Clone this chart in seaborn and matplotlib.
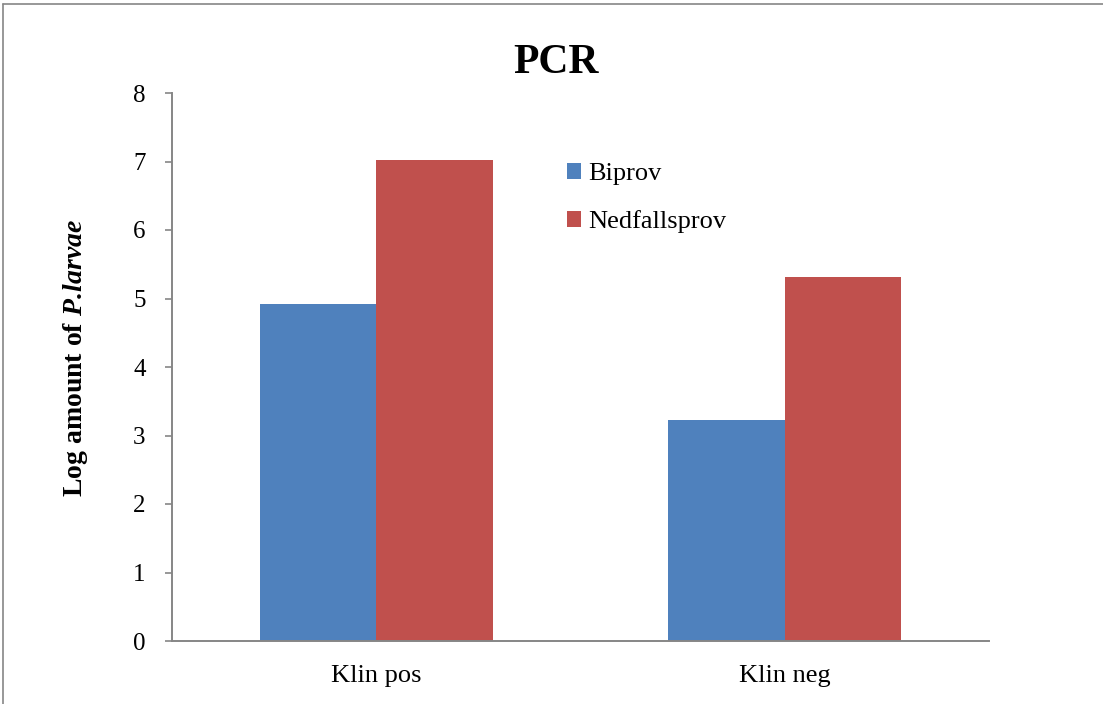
import matplotlib
matplotlib.use("Agg")
import matplotlib.pyplot as plt
from matplotlib.lines import Line2D
from matplotlib.patches import Patch
import seaborn as sns
import pandas as pd

categories = ["Klin pos", "Klin neg"]
series = ["Biprov", "Nedfallsprov"]
biprov = [4.92, 3.22]
nedfallsprov = [7.02, 5.31]
y_ticks = [0, 1, 2, 3, 4, 5, 6, 7, 8]
colors = ["#4F81BD", "#C0504D"]

df = pd.DataFrame({
    "category": categories * 2,
    "series": [series[0]] * 2 + [series[1]] * 2,
    "value": biprov + nedfallsprov,
})

sns.set_theme(style="white")
plt.rcParams["font.family"] = ["Liberation Serif", "DejaVu Serif"]
plt.rcParams["text.color"] = "black"
plt.rcParams["xtick.color"] = "black"
plt.rcParams["ytick.color"] = "black"
plt.rcParams["axes.labelcolor"] = "black"
plt.rcParams["mathtext.fontset"] = "custom"
plt.rcParams["mathtext.rm"] = "Liberation Serif"
plt.rcParams["mathtext.bfit"] = "Liberation Serif:italic:bold"

fig = plt.figure(figsize=(11.03, 7.04), dpi=100)
ax = fig.add_axes([172 / 1103, 1 - 641 / 704, (989 - 172) / 1103, (641 - 93) / 704])

sns.barplot(data=df, x="category", y="value", hue="series", order=categories,
            hue_order=series, palette=colors, width=0.57, gap=0,
            edgecolor="none", linewidth=0, saturation=1, ax=ax, legend=False)

ax.set_xlim(-0.5, 1.5)
ax.set_ylim(0, 8)
ax.set_yticks(y_ticks)
ax.set_yticklabels([str(t) for t in y_ticks], fontsize=18)

ax.set_xticks([0, 1])
ax.set_xticklabels(categories, fontsize=19)
ax.set_xticks([-0.5, 0.5, 1.5], minor=True)
ax.tick_params(axis="x", which="major", length=0, pad=17)
ax.tick_params(axis="x", which="minor", length=7, width=1.2, color="#868686", direction="out")
ax.tick_params(axis="y", which="major", length=5, width=1.2, color="#868686", direction="out",
               pad=14, left=True)
ax.set_xlabel("")
ax.set_ylabel(r"Log amount of $\mathbfit{P.\!larvae}$", fontsize=20, fontweight="bold",
              labelpad=31)
ax.yaxis.label.set_y(0.516)

for side in ["top", "right"]:
    ax.spines[side].set_visible(False)
for side in ["left", "bottom"]:
    ax.spines[side].set_color("#868686")
    ax.spines[side].set_linewidth(1.4)

# chart title centred on the whole figure
fig.text(0.504, 1 - 73 / 704, "PCR", fontsize=30, fontweight="bold",
         ha="center", va="baseline")

handles = [Patch(facecolor=c, edgecolor="none") for c in colors]
ax.legend(handles, series, loc="upper left", bbox_to_anchor=(0.483, 0.872),
          frameon=False, fontsize=19, handlelength=0.55, handleheight=0.55,
          handletextpad=0.25, labelspacing=0.95, borderaxespad=0, borderpad=0)

# thin frame along the left and top edges
for xs, ys in [([3, 3], [0, 700]), ([3, 1103], [700, 700])]:
    fig.add_artist(Line2D([x / 1103 for x in xs], [y / 704 for y in ys],
                          transform=fig.transFigure, color="#868686", linewidth=1.2))

fig.savefig("out.png", dpi=100)
